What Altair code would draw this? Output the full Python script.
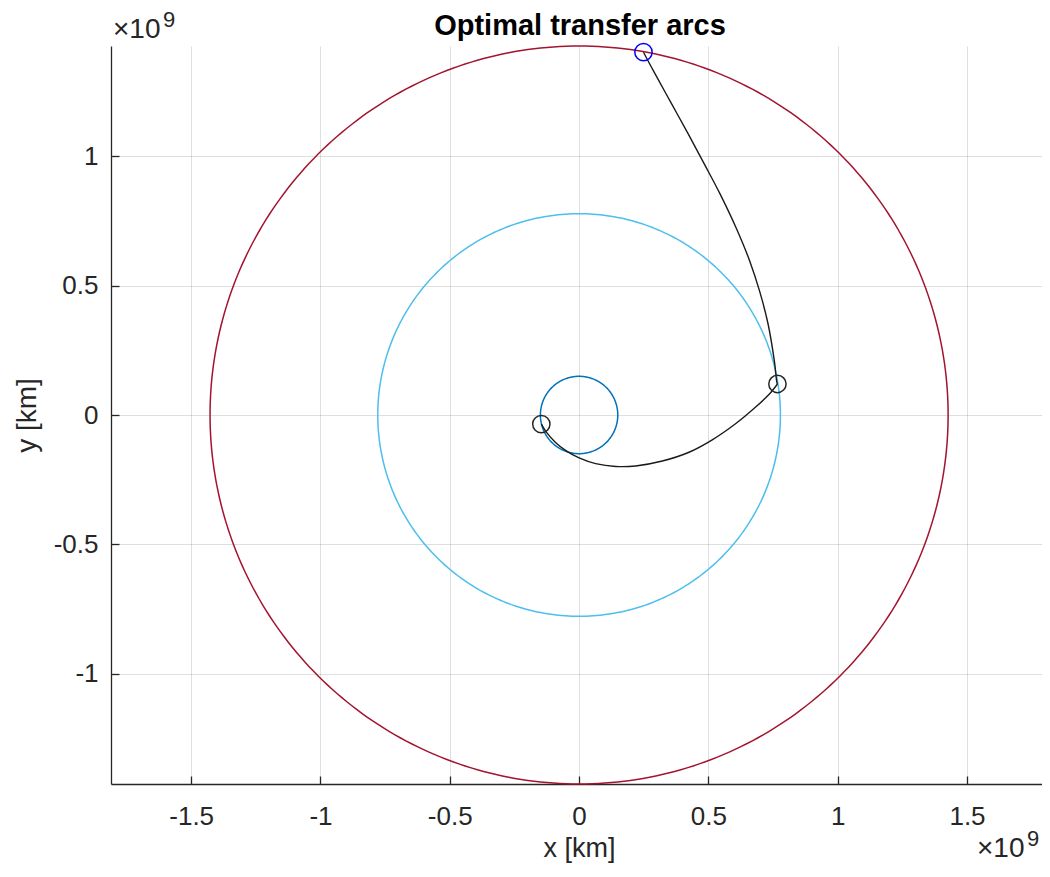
import altair as alt
import pandas as pd

# ---------------- data ----------------
orbit_names = ["Earth", "Jupiter", "Saturn"]
orbit_radii_km = [1.496e8, 7.785e8, 1.427e9]
orbit_colors = ["#0072BD", "#4DBEEE", "#A2142F"]

# transfer arc 1 (Earth -> Jupiter), km
arc1_x = [-0.146e9, -0.125e9, -0.092e9, -0.051e9, 0.000e9, 0.064e9, 0.142e9, 0.219e9,
          0.322e9, 0.425e9, 0.515e9, 0.605e9, 0.675e9, 0.735e9, 0.767e9]
arc1_y = [-0.035e9, -0.068e9, -0.105e9, -0.138e9, -0.166e9, -0.188e9, -0.199e9, -0.197e9,
          -0.178e9, -0.144e9, -0.096e9, -0.034e9, 0.024e9, 0.080e9, 0.120e9]
# transfer arc 2 (Jupiter -> Saturn), km
arc2_x = [0.767e9, 0.765e9, 0.755e9, 0.731e9, 0.698e9, 0.660e9, 0.607e9, 0.546e9,
          0.485e9, 0.423e9, 0.359e9, 0.295e9, 0.249e9]
arc2_y = [0.120e9, 0.125e9, 0.209e9, 0.351e9, 0.479e9, 0.595e9, 0.724e9, 0.853e9,
          0.969e9, 1.085e9, 1.201e9, 1.317e9, 1.403e9]

# markers
black_marker_x = [-0.146e9, 0.767e9]
black_marker_y = [-0.035e9, 0.120e9]
blue_marker_x = [0.249e9]
blue_marker_y = [1.403e9]

x_ticks = [-1.5e9, -1.0e9, -0.5e9, 0.0, 0.5e9, 1.0e9, 1.5e9]
y_ticks = [-1.0e9, -0.5e9, 0.0, 0.5e9, 1.0e9]
x_domain = [-1.81e9, 1.79e9]
y_domain = [-orbit_radii_km[2], orbit_radii_km[2]]

title_text = "Optimal transfer arcs"
x_title = "x [km]"
y_title = "y [km]"

# ---------------- layout ----------------
W, H = 931, 738
FONT = "Liberation Sans"
AX = "#262626"

orbit_df = pd.DataFrame({"name": orbit_names, "r": orbit_radii_km})
arc_df = pd.DataFrame({
    "arc": ["a1"] * len(arc1_x) + ["a2"] * len(arc2_x),
    "seq": list(range(len(arc1_x))) + list(range(len(arc2_x))),
    "x": arc1_x + arc2_x,
    "y": arc1_y + arc2_y,
})
black_df = pd.DataFrame({"x": black_marker_x, "y": black_marker_y})
blue_df = pd.DataFrame({"x": blue_marker_x, "y": blue_marker_y})

xs = alt.Scale(domain=x_domain, nice=False, zero=False)
ys = alt.Scale(domain=y_domain, nice=False, zero=False)

label_expr = "datum.value / 1e9 + ''"

main_x_axis = alt.Axis(
    values=x_ticks, labelExpr=label_expr, grid=True, gridColor=AX, gridOpacity=0.15,
    gridWidth=1, domain=True, domainColor=AX, domainWidth=1.3, ticks=False, tickSize=0,
    labelFont=FONT, labelFontSize=26, labelColor=AX, labelBaseline="alphabetic",
    labelPadding=40, title=x_title, titleFont=FONT, titleFontSize=27,
    titleFontWeight="normal", titleColor=AX, titleBaseline="alphabetic",
    titleX=468, titleY=72, titleAnchor="middle",
)
main_y_axis = alt.Axis(
    values=y_ticks, labelExpr=label_expr, grid=True, gridColor=AX, gridOpacity=0.15,
    gridWidth=1, domain=True, domainColor=AX, domainWidth=1.3, ticks=False, tickSize=0,
    labelFont=FONT, labelFontSize=26, labelColor=AX, labelPadding=13,
    title=y_title, titleFont=FONT, titleFontSize=28, titleFontWeight="normal",
    titleColor=AX, titleBaseline="alphabetic", titleAngle=270, titleX=-76, titleY=H / 2,
    titleAnchor="middle",
)
tick_x_axis = alt.Axis(
    orient="top", offset=-H, values=x_ticks, grid=False, domain=False, labels=False,
    ticks=True, tickSize=8, tickColor=AX, tickWidth=1.3, title=None,
)
tick_y_axis = alt.Axis(
    orient="right", offset=-W, values=y_ticks, grid=False, domain=False, labels=False,
    ticks=True, tickSize=8, tickColor=AX, tickWidth=1.3, title=None,
)

orbits = (
    alt.Chart(orbit_df)
    .transform_calculate(deg="sequence(0, 361, 1)")
    .transform_flatten(["deg"])
    .transform_calculate(
        x="datum.r * cos(datum.deg * PI / 180)",
        y="datum.r * sin(datum.deg * PI / 180)",
    )
    .mark_line(strokeWidth=1.5)
    .encode(
        x=alt.X("x:Q", scale=xs, axis=main_x_axis),
        y=alt.Y("y:Q", scale=ys, axis=main_y_axis),
        color=alt.Color("name:N", scale=alt.Scale(domain=orbit_names, range=orbit_colors), legend=None),
        detail="name:N",
        order="deg:Q",
    )
)

arcs = (
    alt.Chart(arc_df)
    .mark_line(color="#1a1a1a", strokeWidth=1.4, interpolate="catmull-rom")
    .encode(
        x=alt.X("x:Q", scale=xs, axis=tick_x_axis),
        y=alt.Y("y:Q", scale=ys, axis=tick_y_axis),
        detail="arc:N",
        order="seq:Q",
    )
)

black_pts = (
    alt.Chart(black_df)
    .mark_point(shape="circle", filled=False, size=300, strokeWidth=1.5, color="#262626", opacity=1)
    .encode(x=alt.X("x:Q", scale=xs, axis=None), y=alt.Y("y:Q", scale=ys, axis=None))
)
blue_pts = (
    alt.Chart(blue_df)
    .mark_point(shape="circle", filled=False, size=300, strokeWidth=1.5, color="#0000FF", opacity=1)
    .encode(x=alt.X("x:Q", scale=xs, axis=None), y=alt.Y("y:Q", scale=ys, axis=None))
)


def exp_label(px, py):
    base = alt.Chart(pd.DataFrame({"t": ["\u00d710"]})).mark_text(
        align="left", baseline="alphabetic", font=FONT, fontSize=28, color=AX
    ).encode(x=alt.value(px), y=alt.value(py), text="t:N")
    sup = alt.Chart(pd.DataFrame({"t": ["9"]})).mark_text(
        align="left", baseline="alphabetic", font=FONT, fontSize=22, color=AX
    ).encode(x=alt.value(px + 50), y=alt.value(py - 11), text="t:N")
    return base + sup


title_mark = alt.Chart(pd.DataFrame({"t": [title_text]})).mark_text(
    align="center", baseline="alphabetic", font=FONT, fontSize=29, fontWeight="bold",
    color="#000000",
).encode(x=alt.value(469), y=alt.value(-11), text="t:N")

chart = (
    alt.layer(orbits, arcs, black_pts, blue_pts, exp_label(2, -8), exp_label(866, 811), title_mark)
    .resolve_axis(x="independent", y="independent")
    .properties(
        width=W,
        height=H,
        autosize=alt.AutoSizeParams(type="none"),
        padding={"left": 103, "top": 38, "right": 0, "bottom": 79},
    )
    .configure_view(stroke=None)
)

chart.save("out.html", embed_options={"renderer": "svg", "actions": False})
